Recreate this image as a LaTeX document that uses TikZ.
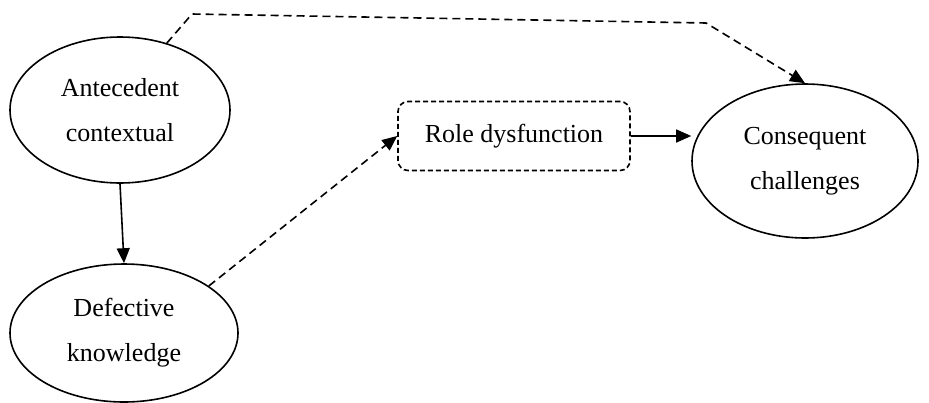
\documentclass[tikz,border=0pt]{standalone}
\usepackage{fontspec}
\setmainfont{Liberation Serif}
\usetikzlibrary{shapes.geometric,arrows.meta}
\tikzset{
  concept/.style={draw,ellipse,line width=.8pt,inner sep=0pt,align=center,
    font=\fontsize{13}{22.5}\selectfont},
  rolebox/.style={draw,rounded corners=5pt,line width=.8pt,inner sep=0pt,
    dash pattern=on 2.5pt off 1.5pt,font=\fontsize{13}{15}\selectfont},
  link/.style={line width=.8pt,-{Triangle[length=7.5pt,width=6.5pt]}},
  dashlink/.style={link,dash pattern=on 4pt off 2.5pt}
}
\begin{document}
\begin{tikzpicture}[x=.5pt,y=-.5pt]
  \useasboundingbox (0,0) rectangle (929,402);
  % antecedent
  \node[concept,minimum width=110pt,minimum height=73pt] at(120,110)(ante){Antecedent\\contextual};
  % defective knowledge
  \node[concept,minimum width=114pt,minimum height=69pt] at(124,333)(def){Defective\\knowledge};
  % role dysfunction
  \node[rolebox,minimum width=116pt,minimum height=34.5pt] at(514,136)(role){Role dysfunction};
  % consequent
  \node[concept,minimum width=113pt,minimum height=77pt] at(805,161)(cons){Consequent\\challenges};
  % corners of the top line
  \coordinate (topl) at(192,14);
  \coordinate (topr) at(706,23);
  % arrows
  \draw [link](ante.south) -- (def.north);
  \draw [link](role.east) -- (cons.west |- role.east);
  \draw [dashlink](def.29) -- (role.west);
  \draw [dashlink](ante.55) -- (topl) -- (topr) -- (cons.north);
\end{tikzpicture}
\end{document}
